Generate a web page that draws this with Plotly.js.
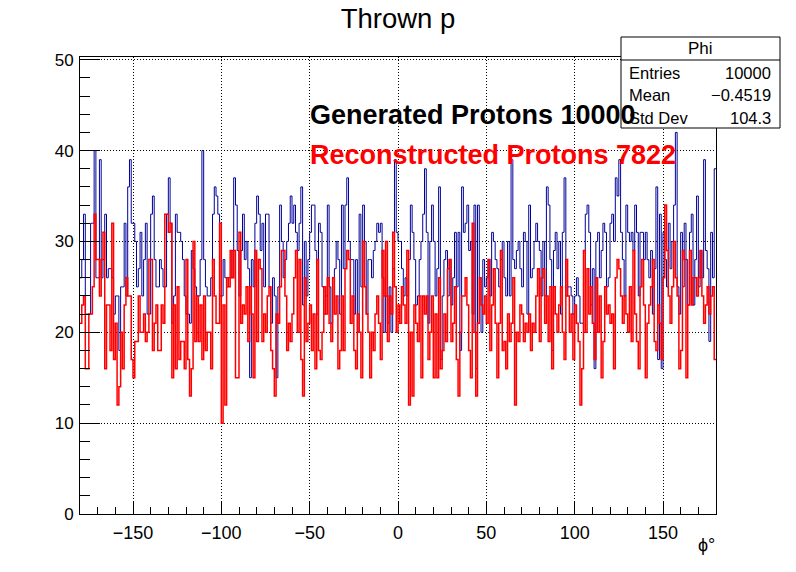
<!DOCTYPE html>
<html>
<head>
<meta charset="utf-8">
<script src="https://cdn.plot.ly/plotly-3.0.1.min.js"></script>
<style>
  html, body { margin: 0; padding: 0; background: #fff; }
  #chart { width: 796px; height: 572px; }
</style>
</head>
<body>
<div id="chart"></div>
<script>
// Histogram "Phi": 360 bins of 1 degree from -180 to 180
const binLow = -180;
const binHigh = 180;

// Generated protons (blue), counts per bin
const generated = [
  26,28,33,22,22,22,32,32,40,26, 26,39,26,28,33,26,27,27,26,22,
  24,24,18,25,25,32,24,36,39,32, 32,30,25,27,31,24,28,32,22,22,
  33,35,28,25,25,28,27,25,25,33, 37,32,21,24,33,31,31,30,28,24,
  22,22,21,29,27,25,24,24,28,40, 28,25,24,24,26,33,36,35,33,24,
  24,28,26,25,26,26,29,37,34,29,
  24,29,33,28,30,27,15,28,25,32, 35,33,29,32,25,33,33,25,21,26,
  24,15,25,34,30,26,28,30,32,35, 32,34,31,29,32,36,23,30,24,28,
  31,34,34,29,22,32,31,25,22,24, 34,25,21,26,27,30,28,22,34,27,
  34,37,30,28,28,22,28,20,33,25, 34,30,22,28,28,26,29,30,32,31,
  32,26,20,24,21,25,20,27,39,31, 30,
  30,27,24,26,24,28,34,31,28,23, 24,28,30,33,38,31,21,30,34,30,
  24,27,36,17,24,28,29,24,28,23, 26,31,25,31,18,36,31,32,34,29,
  30,22,34,16,34,26,20,28,25,26, 28,24,31,30,28,27,25,28,30,26,
  24,30,24,39,28,27,29,30,27,25, 31,30,22,34,26,27,30,32,30,29,
  24,30,24,36,34,28,18,29,31,27, 30,
  22,31,37,24,25,25,24,22,24,26, 24,21,21,29,33,34,31,23,27,16,
  30,31,26,29,32,31,25,26,32,33, 30,37,35,39,31,28,24,34,31,30,
  31,29,34,31,24,31,31,28,31,28, 26,29,22,27,36,17,33,16,31,28,
  25,32,27,30,34,42,25,22,31,25, 32,28,23,31,33,23,28,35,25,29,
  26,39,29,27,19,31,26,38
];

// Reconstructed protons (red), counts per bin
const reconstructed = [
  21,23,24,16,16,22,22,25,33,28, 28,24,28,31,16,23,23,18,32,17,
  21,12,14,20,16,23,26,24,24,17, 15,19,19,24,20,20,22,19,20,28,
  28,18,21,23,18,18,23,21,33,33, 31,32,15,23,16,25,17,19,19,16,
  28,17,13,16,30,19,24,19,23,17, 24,18,20,20,16,28,24,21,21,32,
  10,23,12,26,25,29,26,29,15,15,
  31,21,23,22,25,19,25,22,15,29, 19,28,27,19,22,20,24,25,18,16,
  13,22,21,25,29,29,24,18,21,19, 22,26,29,20,28,17,13,26,19,21,
  23,18,22,16,28,18,17,20,25,22, 26,21,19,26,22,24,16,18,24,18,
  27,29,28,21,24,18,16,22,20,15, 30,25,22,20,15,20,18,22,24,21,
  17,29,24,30,19,24,22,31,25,20, 23,
  21,25,23,21,29,12,20,13,23,21, 19,24,15,24,22,24,17,20,24,15,
  22,15,26,16,18,22,19,27,28,19, 21,25,17,13,20,24,24,26,23,18,
  15,32,20,13,21,26,23,22,24,21, 28,18,23,27,21,15,21,29,18,19,
  16,22,19,21,26,12,20,19,23,22, 19,21,20,22,18,21,20,24,27,19,
  26,27,21,24,19,25,16,25,22,20, 23,
  25,20,17,28,24,20,22,17,23,21, 19,12,16,29,20,27,22,25,21,17,
  26,20,24,15,19,25,22,23,21,22, 16,26,28,27,24,21,24,22,20,25,
  19,29,22,19,16,25,28,23,15,21, 23,25,28,19,18,23,21,17,26,34,
  29,24,21,25,30,26,24,16,18,29, 28,15,23,29,23,26,26,24,26,29,
  24,21,23,25,22,24,25,17
];

// Texts
const chartTitle = "Thrown p";
const xTitle = "ϕ°";
const labelGenerated = "Generated Protons 10000";
const labelReconstructed = "Reconstructed Protons 7822";
const statName = "Phi";
const statLabels = ["Entries", "Mean", "Std Dev"];
const statValues = ["10000", "\u22120.4519", "104.3"];

// Step outline from bin edges
function stepTrace(vals, color, width) {
  const n = vals.length;
  const w = (binHigh - binLow) / n;
  const xs = [], ys = [];
  for (let i = 0; i < n; i++) { xs.push(binLow + i * w); ys.push(vals[i]); }
  xs.push(binHigh); ys.push(vals[n - 1]);
  return { type: 'scatter', mode: 'lines', x: xs, y: ys,
           line: { shape: 'hv', color: color, width: width },
           hoverinfo: 'skip', showlegend: false };
}

const W = 796, H = 572;
const L = 80, R = 716, T = 57, B = 514;
const px = v => (v - L) / (R - L);
const py = v => (B - v) / (B - T);
const FONT = "Liberation Sans, Arial, Helvetica, sans-serif";

const data = [
  stepTrace(generated, '#000099', 1),
  stepTrace(reconstructed, '#ff0000', 1.5)
];

const annotations = [
  { text: '<b>' + labelGenerated + '</b>', xref: 'paper', yref: 'paper',
    x: px(308), y: py(115), xanchor: 'left', yanchor: 'middle', showarrow: false,
    font: { family: FONT, size: 27, color: '#000' } },
  { text: '<b>' + labelReconstructed + '</b>', xref: 'paper', yref: 'paper',
    x: px(308), y: py(155), xanchor: 'left', yanchor: 'middle', showarrow: false,
    font: { family: FONT, size: 27, color: '#ff0000' } },
  { text: statName, xref: 'paper', yref: 'paper', x: px(700.5), y: py(48.5),
    xanchor: 'center', yanchor: 'middle', showarrow: false,
    font: { family: FONT, size: 17, color: '#000' } },
  { text: xTitle, xref: 'paper', yref: 'paper', x: px(717), y: py(545),
    xanchor: 'right', yanchor: 'middle', showarrow: false,
    font: { family: FONT, size: 18, color: '#000' } }
];
const rowY = [72.5, 95, 118];
for (let i = 0; i < statLabels.length; i++) {
  annotations.push({ text: statLabels[i], xref: 'paper', yref: 'paper',
    x: px(627), y: py(rowY[i]), xanchor: 'left', yanchor: 'middle', showarrow: false,
    font: { family: FONT, size: 16.5, color: '#000' } });
  annotations.push({ text: statValues[i], xref: 'paper', yref: 'paper',
    x: px(773), y: py(rowY[i]), xanchor: 'right', yanchor: 'middle', showarrow: false,
    font: { family: FONT, size: 16.5, color: '#000' } });
}

const layout = {
  width: W, height: H,
  margin: { l: L, r: W - R, t: T, b: H - B, pad: 0 },
  paper_bgcolor: '#fff', plot_bgcolor: '#fff',
  font: { family: FONT, color: '#000' },
  title: { text: chartTitle, x: 0.5, xanchor: 'center', xref: 'container',
           y: 1 - 18.5 / H, yanchor: 'middle', yref: 'container',
           font: { family: FONT, size: 27.5, color: '#000' } },
  xaxis: {
    range: [binLow, binHigh], dtick: 50, tick0: 0,
    ticks: 'inside', ticklen: 13, tickwidth: 1, tickcolor: '#000',
    minor: { dtick: 10, ticks: 'inside', ticklen: 7, tickwidth: 1, tickcolor: '#000', showgrid: false },
    showgrid: true, gridcolor: '#000', gridwidth: 1, griddash: '1px,2px',
    showline: true, linecolor: '#000', linewidth: 1, mirror: true,
    zeroline: false, tickfont: { family: FONT, size: 18, color: '#000' },
    ticklabelstandoff: 2
  },
  yaxis: {
    range: [0, 50.3], dtick: 10, tick0: 0,
    ticks: 'inside', ticklen: 20, tickwidth: 1, tickcolor: '#000',
    minor: { dtick: 2, ticks: 'inside', ticklen: 10, tickwidth: 1, tickcolor: '#000', showgrid: false },
    showgrid: true, gridcolor: '#000', gridwidth: 1, griddash: '1px,2px',
    showline: true, linecolor: '#000', linewidth: 1, mirror: true,
    zeroline: false, tickfont: { family: FONT, size: 17, color: '#000' },
    ticklabelstandoff: 2
  },
  shapes: [
    { type: 'rect', xref: 'paper', yref: 'paper', x0: px(621), x1: px(780), y0: py(128), y1: py(37),
      line: { color: '#000', width: 1 }, fillcolor: '#fff', layer: 'above' },
    { type: 'line', xref: 'paper', yref: 'paper', x0: px(621), x1: px(780), y0: py(60), y1: py(60),
      line: { color: '#000', width: 1 }, layer: 'above' }
  ],
  annotations: annotations,
  showlegend: false
};

Plotly.newPlot('chart', data, layout, { displayModeBar: false, staticPlot: true });
</script>
</body>
</html>
